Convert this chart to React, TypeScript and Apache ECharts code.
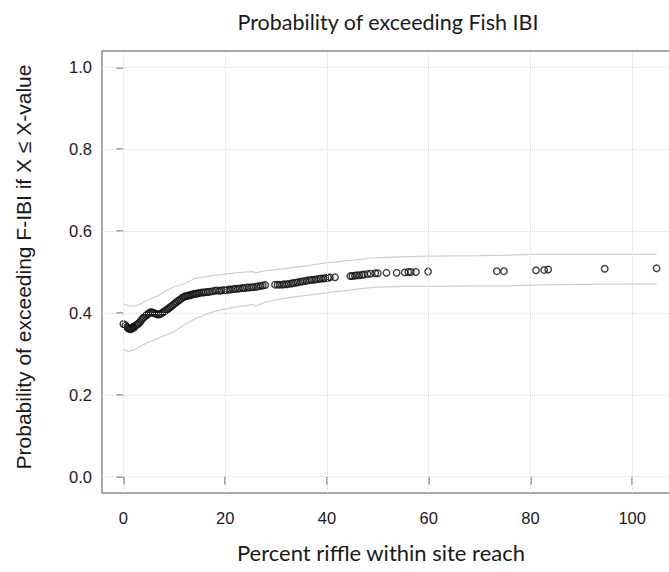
import React, { useEffect, useRef } from 'react';
import * as echarts from 'echarts';

const chartTitle = 'Probability of exceeding Fish IBI';
const xTitle = 'Percent riffle within site reach';
const yTitle = 'Probability of exceeding F-IBI if X \u2264 X-value';

const xTicks = [0, 20, 40, 60, 80, 100];
const yTicks = [0, 0.2, 0.4, 0.6, 0.8, 1.0];

const pctRiffle = [
  0, 0.4, 0.7, 0.9, 1.1, 1.3, 1.5, 1.7, 1.9, 2.1, 2.3, 2.6, 2.8, 3.0, 3.3, 3.5, 3.8, 4.0, 4.3, 4.6,
  4.9, 5.1, 5.4, 5.7, 6.0, 6.3, 6.6, 6.9, 7.2, 7.5, 7.8, 8.1, 8.4, 8.7, 9.0, 9.3, 9.6, 9.9, 10.2, 10.5,
  10.8, 11.1, 11.4, 11.7, 12.0, 12.3, 12.6, 12.9, 13.2, 13.5, 13.8, 14.1, 14.4, 14.7, 15.0, 15.4, 15.8, 16.2, 16.6, 17.0,
  17.5, 18.0, 18.4, 18.9, 19.3, 19.8, 20.2, 20.7, 21.1, 21.6, 22.0, 22.5, 22.9, 23.4, 23.8, 24.3, 24.7, 25.2, 25.6, 26.1,
  26.5, 27.0, 27.4, 27.9, 29.8, 30.3, 30.7, 31.2, 31.6, 32.1, 32.5, 33.0, 33.4, 33.9, 34.3, 34.8, 35.2, 35.7, 36.1, 36.6,
  37.0, 37.5, 37.9, 38.4, 38.8, 39.3, 39.7, 40.2, 40.6, 41.6, 44.6, 45.0, 45.5, 45.9, 46.4, 46.9, 47.3, 48.0, 48.6, 49.5,
  50.0, 51.7, 53.7, 55.3, 56.0, 56.5, 57.5, 59.9, 73.4, 74.8, 81.1, 82.7, 83.5, 94.6, 104.8,
];

const probExceed = [
  0.373, 0.370, 0.366, 0.363, 0.361, 0.362, 0.360, 0.363, 0.366, 0.364, 0.368, 0.371, 0.372, 0.375, 0.378, 0.382, 0.386, 0.389, 0.392, 0.395,
  0.398, 0.400, 0.402, 0.401, 0.400, 0.398, 0.397, 0.396, 0.397, 0.399, 0.402, 0.404, 0.407, 0.409, 0.412, 0.415, 0.418, 0.421, 0.424, 0.427,
  0.430, 0.432, 0.435, 0.438, 0.440, 0.441, 0.442, 0.443, 0.443, 0.445, 0.446, 0.447, 0.447, 0.448, 0.449, 0.450, 0.450, 0.451, 0.451, 0.452,
  0.453, 0.454, 0.455, 0.454, 0.455, 0.456, 0.456, 0.457, 0.457, 0.458, 0.459, 0.459, 0.460, 0.461, 0.461, 0.462, 0.462, 0.463, 0.463, 0.464,
  0.465, 0.466, 0.467, 0.468, 0.469, 0.469, 0.469, 0.469, 0.470, 0.470, 0.471, 0.472, 0.473, 0.474, 0.475, 0.476, 0.477, 0.478, 0.479, 0.480,
  0.481, 0.481, 0.482, 0.483, 0.484, 0.484, 0.485, 0.486, 0.487, 0.487, 0.490, 0.490, 0.491, 0.492, 0.492, 0.493, 0.494, 0.495, 0.496, 0.497,
  0.497, 0.498, 0.498, 0.499, 0.500, 0.500, 0.500, 0.501, 0.502, 0.502, 0.504, 0.505, 0.506, 0.508, 0.509,
];

const bandPct = [
  0, 1, 2, 3, 4, 5, 6, 7, 8, 9, 10, 11, 12, 13, 14, 15, 16, 17, 18, 19, 20, 22, 24, 25.5, 26, 27, 28, 30, 32, 34,
  36, 38, 40, 41.6, 44, 46, 48, 50, 55, 60, 70, 75, 80, 90, 104.8,
];
const upperBand = [
  0.422, 0.418, 0.416, 0.420, 0.426, 0.432, 0.438, 0.444, 0.452, 0.458, 0.464, 0.467, 0.472, 0.478, 0.484, 0.487, 0.488, 0.490, 0.492, 0.493,
  0.495, 0.498, 0.500, 0.501, 0.498, 0.501, 0.503, 0.506, 0.509, 0.512, 0.515, 0.519, 0.523, 0.524, 0.528, 0.530, 0.533, 0.535, 0.537, 0.539,
  0.540, 0.541, 0.543, 0.543, 0.543,
];
const lowerBand = [
  0.310, 0.306, 0.309, 0.316, 0.323, 0.329, 0.334, 0.339, 0.344, 0.349, 0.355, 0.363, 0.371, 0.378, 0.385, 0.390, 0.395, 0.400, 0.404, 0.407,
  0.410, 0.414, 0.418, 0.421, 0.417, 0.422, 0.427, 0.432, 0.436, 0.440, 0.443, 0.446, 0.449, 0.452, 0.455, 0.458, 0.461, 0.463, 0.465, 0.465,
  0.466, 0.466, 0.468, 0.470, 0.471,
];

const AXIS_GRAY = '#8c8c8c';
const GRID_GRAY = '#dcdcdc';
const BAND_GRAY = '#cfcfcf';

export default function App() {
  const ref = useRef<HTMLDivElement>(null);

  useEffect(() => {
    if (!ref.current) return;
    const chart = echarts.init(ref.current, null, { renderer: 'svg' });

    const points = pctRiffle.map((x, i) => [x, probExceed[i]]);
    const upper = bandPct.map((x, i) => [x, upperBand[i]]);
    const lower = bandPct.map((x, i) => [x, lowerBand[i]]);

    const centered = {
      align: 'center',
      verticalAlign: 'middle',
      textAlign: 'center',
      textVerticalAlign: 'middle',
    };

    chart.setOption({
      animation: false,
      backgroundColor: '#ffffff',
      grid: {
        left: 102,
        top: 51,
        width: 577,
        height: 442,
        show: true,
        borderColor: AXIS_GRAY,
        borderWidth: 1.5,
        backgroundColor: 'transparent',
      },
      xAxis: {
        type: 'value',
        min: -4.2,
        max: 109.2,
        axisLine: { show: false },
        axisTick: {
          show: true,
          length: 8,
          customValues: xTicks,
          lineStyle: { color: AXIS_GRAY, width: 1.5 },
        },
        axisLabel: {
          customValues: xTicks,
          fontSize: 16.5,
          fontFamily: 'Liberation Sans, Arial, sans-serif',
          color: '#1a1a1a',
          margin: 16,
        },
        splitLine: { show: false },
      },
      yAxis: {
        type: 'value',
        min: -0.04,
        max: 1.04,
        axisLine: { show: false },
        axisTick: {
          show: true,
          length: 7,
          customValues: yTicks,
          lineStyle: { color: AXIS_GRAY, width: 1.5 },
        },
        axisLabel: {
          customValues: yTicks,
          fontSize: 16.5,
          fontFamily: 'Liberation Sans, Arial, sans-serif',
          color: '#1a1a1a',
          margin: 10,
          formatter: (v: number) => v.toFixed(1),
        },
        splitLine: { show: false },
      },
      graphic: [
        {
          type: 'text',
          x: 388,
          y: 22,
          style: {
            text: chartTitle,
            fontSize: 21.5,
            fontFamily: 'Lato, sans-serif',
            fill: '#1a1a1a',
            ...centered,
          },
        },
        {
          type: 'text',
          x: 381,
          y: 552,
          style: {
            text: xTitle,
            fontSize: 22,
            fontFamily: 'Lato, sans-serif',
            fill: '#1a1a1a',
            ...centered,
          },
        },
        {
          type: 'text',
          x: 23,
          y: 267,
          rotation: Math.PI / 2,
          style: {
            text: yTitle,
            fontSize: 21,
            fontFamily: 'Liberation Sans, Arial, sans-serif',
            fill: '#1a1a1a',
            ...centered,
          },
        },
      ],
      series: [
        {
          type: 'line',
          data: lower,
          showSymbol: false,
          symbol: 'none',
          silent: true,
          z: 1,
          lineStyle: { color: BAND_GRAY, width: 1.2 },
          markLine: {
            silent: true,
            symbol: ['none', 'none'],
            label: { show: false },
            lineStyle: { color: GRID_GRAY, type: 'dotted', width: 1 },
            data: [
              ...xTicks.map((v) => ({ xAxis: v })),
              ...yTicks.map((v) => ({ yAxis: v })),
            ],
          },
        },
        {
          type: 'line',
          data: upper,
          showSymbol: false,
          symbol: 'none',
          silent: true,
          z: 1,
          lineStyle: { color: BAND_GRAY, width: 1.2 },
        },
        {
          type: 'scatter',
          data: points,
          symbol: 'circle',
          symbolSize: 6.5,
          z: 3,
          itemStyle: { color: 'rgba(0,0,0,0)', borderColor: '#111111', borderWidth: 1.4 },
        },
      ],
    });

    return () => chart.dispose();
  }, []);

  return (
    <div
      style={{
        position: 'fixed',
        left: 0,
        top: 0,
        width: 669,
        height: 572,
        overflow: 'hidden',
        background: '#fff',
      }}
    >
      <div ref={ref} style={{ width: 700, height: 572 }} />
    </div>
  );
}
